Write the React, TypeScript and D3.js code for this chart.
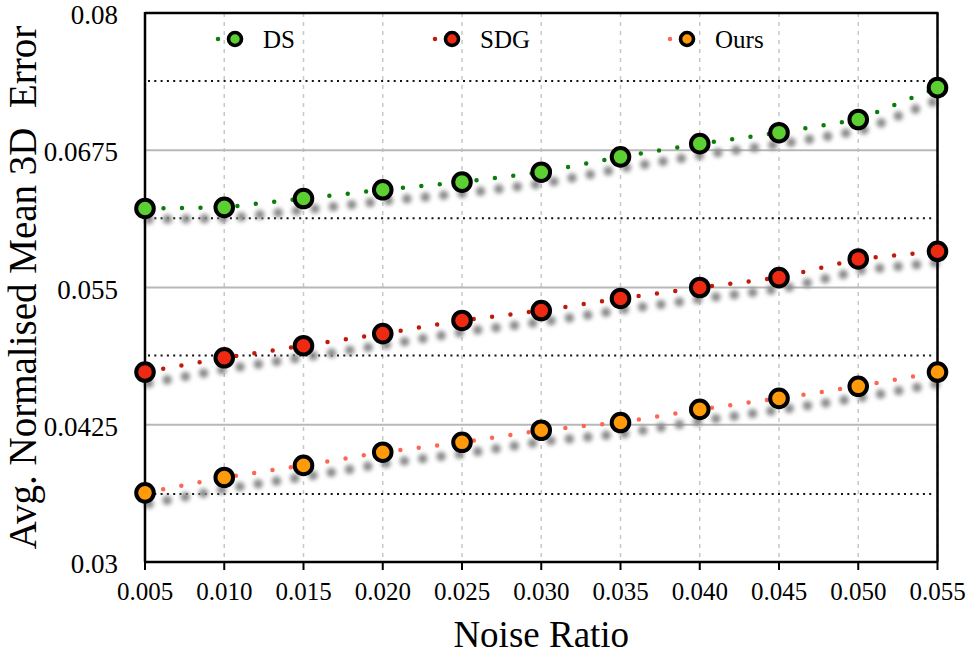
import React, { useEffect, useRef } from 'react';
import * as d3 from 'd3';

const noiseRatios = [0.005, 0.01, 0.015, 0.02, 0.025, 0.03, 0.035, 0.04, 0.045, 0.05, 0.055];
const dsErrors = [0.0622, 0.0623, 0.0631, 0.0639, 0.0646, 0.0655, 0.0669, 0.0681, 0.0691, 0.0703, 0.0732];
const sdgErrors = [0.0473, 0.0486, 0.0497, 0.0508, 0.0520, 0.0529, 0.0540, 0.0550, 0.0559, 0.0576, 0.0583];
const oursErrors = [0.0363, 0.0377, 0.0388, 0.0400, 0.0409, 0.0420, 0.0427, 0.0439, 0.0449, 0.0460, 0.0473];
const yTicks = [0.03, 0.0425, 0.055, 0.0675, 0.08];
const yTickLabels = ['0.03', '0.0425', '0.055', '0.0675', '0.08'];
const refLines = [0.0738, 0.0613, 0.0488, 0.0362];

const seriesList = [
  { name: 'DS', values: dsErrors, line: '#0a7d0a', fill: '#5ccf33' },
  { name: 'SDG', values: sdgErrors, line: '#c01a0a', fill: '#ee2a12' },
  { name: 'Ours', values: oursErrors, line: '#ff6652', fill: '#ff9a0a' },
];

const App = () => {
  const svgRef = useRef<SVGSVGElement | null>(null);

  useEffect(() => {
    d3.select(svgRef.current).selectAll('*').remove();

    const width = 968;
    const height = 659;
    const margin = { top: 13, right: 30, bottom: 97, left: 145 };
    const serif = '"Liberation Serif", "Times New Roman", serif';

    const svg = d3.select(svgRef.current).attr('width', width).attr('height', height);

    const defs = svg.append('defs');
    defs
      .append('filter')
      .attr('id', 'soft')
      .attr('x', '-10%')
      .attr('y', '-50%')
      .attr('width', '120%')
      .attr('height', '200%')
      .append('feGaussianBlur')
      .attr('stdDeviation', 2.2);

    const x = d3
      .scaleLinear()
      .domain([0.005, 0.055])
      .range([margin.left, width - margin.right - 0.5]);
    const y = d3
      .scaleLinear()
      .domain([0.03, 0.08])
      .range([height - margin.bottom, margin.top]);

    const x0 = x.range()[0];
    const x1 = x.range()[1];
    const yb = y.range()[0];
    const yt = y.range()[1];

    // vertical dashed grid
    svg
      .append('g')
      .selectAll('line')
      .data(noiseRatios.slice(1))
      .join('line')
      .attr('x1', (d) => x(d))
      .attr('x2', (d) => x(d))
      .attr('y1', yt)
      .attr('y2', yb)
      .attr('stroke', '#c8c8c8')
      .attr('stroke-width', 1.5)
      .attr('stroke-dasharray', '4 5');

    // horizontal grid
    svg
      .append('g')
      .selectAll('line')
      .data(yTicks.slice(1, -1))
      .join('line')
      .attr('x1', x0)
      .attr('x2', x1)
      .attr('y1', (d) => y(d))
      .attr('y2', (d) => y(d))
      .attr('stroke', '#b8b8b8')
      .attr('stroke-width', 1.8);

    // black dotted reference lines
    svg
      .append('g')
      .selectAll('line')
      .data(refLines)
      .join('line')
      .attr('x1', x0 + 3)
      .attr('x2', x1 - 3)
      .attr('y1', (d) => y(d))
      .attr('y2', (d) => y(d))
      .attr('stroke', '#111')
      .attr('stroke-width', 2)
      .attr('stroke-dasharray', '2 4.3');

    const line = d3
      .line<number>()
      .x((d, i) => x(noiseRatios[i]))
      .y((d) => y(d));

    // blurred shadows
    svg
      .append('g')
      .attr('transform', 'translate(4, 11)')
      .attr('filter', 'url(#soft)')
      .selectAll('path')
      .data(seriesList)
      .join('path')
      .attr('d', (s) => line(s.values))
      .attr('fill', 'none')
      .attr('stroke', '#8a8a8a')
      .attr('stroke-width', 9.5)
      .attr('stroke-linecap', 'round')
      .attr('stroke-dasharray', '0 18.5');

    // dotted series lines
    svg
      .append('g')
      .selectAll('path')
      .data(seriesList)
      .join('path')
      .attr('d', (s) => line(s.values))
      .attr('fill', 'none')
      .attr('stroke', (s) => s.line)
      .attr('stroke-width', 4.5)
      .attr('stroke-linecap', 'round')
      .attr('stroke-dasharray', '0 18.5');

    // axes frame
    const frame = svg.append('g').attr('stroke', '#000').attr('fill', 'none');
    frame.append('line').attr('x1', x0).attr('x2', x1 + 1).attr('y1', yt).attr('y2', yt).attr('stroke-width', 2.5);
    frame.append('line').attr('x1', x1).attr('x2', x1).attr('y1', yt).attr('y2', yb).attr('stroke-width', 2.5);
    frame.append('line').attr('x1', x0).attr('x2', x0).attr('y1', yt - 1).attr('y2', yb).attr('stroke-width', 2.5);
    frame.append('line').attr('x1', x0).attr('x2', x1).attr('y1', yb).attr('y2', yb).attr('stroke-width', 2.5);
    frame
      .append('g')
      .selectAll('line')
      .data(noiseRatios)
      .join('line')
      .attr('x1', (d) => x(d))
      .attr('x2', (d) => x(d))
      .attr('y1', yb)
      .attr('y2', yb + 8)
      .attr('stroke-width', 2);

    // markers
    seriesList.forEach((s) => {
      svg
        .append('g')
        .selectAll('circle')
        .data(s.values)
        .join('circle')
        .attr('cx', (d, i) => x(noiseRatios[i]))
        .attr('cy', (d) => y(d))
        .attr('r', 8.8)
        .attr('fill', s.fill)
        .attr('stroke', '#000')
        .attr('stroke-width', 4);
    });

    // tick labels
    svg
      .append('g')
      .selectAll('text')
      .data(noiseRatios)
      .join('text')
      .attr('x', (d) => x(d))
      .attr('y', yb + 38)
      .attr('text-anchor', 'middle')
      .attr('font-family', serif)
      .attr('font-size', 25)
      .text((d) => d3.format('.3f')(d));

    svg
      .append('g')
      .selectAll('text')
      .data(yTicks)
      .join('text')
      .attr('x', x0 - 27)
      .attr('y', (d) => y(d) + 11)
      .attr('text-anchor', 'end')
      .attr('font-family', serif)
      .attr('font-size', 27)
      .text((d, i) => yTickLabels[i]);

    // axis titles
    svg
      .append('text')
      .attr('x', (x0 + x1) / 2)
      .attr('y', 647)
      .attr('text-anchor', 'middle')
      .attr('font-family', serif)
      .attr('font-size', 37)
      .text('Noise Ratio');

    svg
      .append('text')
      .attr('transform', `translate(36, ${(yt + yb) / 2}) rotate(-90)`)
      .attr('text-anchor', 'middle')
      .attr('font-family', serif)
      .attr('font-size', 39)
      .attr('xml:space', 'preserve')
      .style('white-space', 'pre')
      .text('Avg. Normalised Mean 3D  Error');

    // legend
    const legendX = [235, 452, 687];
    const legend = svg
      .append('g')
      .selectAll('g')
      .data(seriesList)
      .join('g')
      .attr('transform', (d, i) => `translate(${legendX[i]}, 39)`);
    legend
      .append('line')
      .attr('x1', -17)
      .attr('x2', 22)
      .attr('stroke', (s) => s.line)
      .attr('stroke-width', 4.5)
      .attr('stroke-linecap', 'round')
      .attr('stroke-dasharray', '0 19.5');
    legend
      .append('circle')
      .attr('r', 6.5)
      .attr('fill', (s) => s.fill)
      .attr('stroke', '#000')
      .attr('stroke-width', 3.6);
    legend
      .append('text')
      .attr('x', 28)
      .attr('y', 9)
      .attr('font-family', serif)
      .attr('font-size', 25)
      .text((s) => s.name);
  }, []);

  return <svg ref={svgRef} style={{ position: 'absolute', left: 0, top: 0 }}></svg>;
};

export default App;
